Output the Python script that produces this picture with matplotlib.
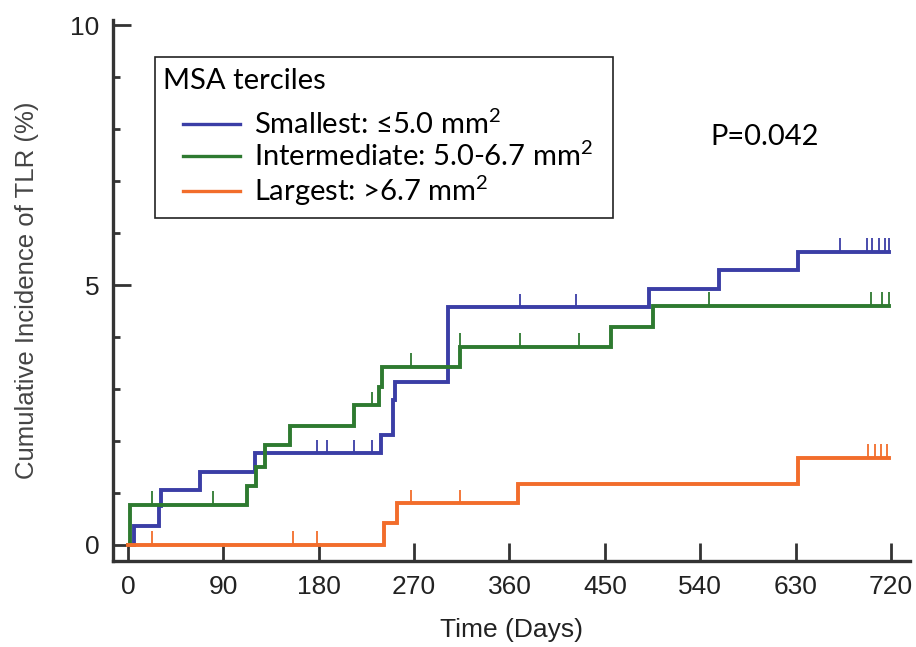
import numpy as np
import matplotlib
matplotlib.use("Agg")
import matplotlib.pyplot as plt
from matplotlib.patches import Rectangle

# step curves: time of each jump (days) and cumulative incidence (%) after it
blue_t = [0, 6, 29, 31, 68, 120, 239, 250, 252, 302, 492, 558, 632, 718]
blue_y = [0, 0.37, 0.74, 1.06, 1.41, 1.76, 2.11, 2.79, 3.14, 4.57, 4.92, 5.29, 5.64, 5.64]
green_t = [0, 2, 112, 121, 129, 153, 213, 237, 240, 313, 456, 495, 718]
green_y = [0, 0.77, 1.13, 1.50, 1.92, 2.29, 2.69, 3.04, 3.43, 3.81, 4.20, 4.60, 4.60]
orange_t = [0, 242, 254, 368, 632, 718]
orange_y = [0, 0.42, 0.80, 1.17, 1.68, 1.68]

# censoring marks
blue_c = [178, 188, 213, 230, 370, 423, 672, 697, 702, 709, 714, 718]
green_c = [23, 80, 230, 267, 313, 370, 426, 548, 701, 712, 718]
orange_c = [23, 156, 178, 267, 313, 698, 705, 711, 716]

labels = ["Smallest: ≤5.0 mm$^2$", "Intermediate: 5.0-6.7 mm$^2$", "Largest: >6.7 mm$^2$"]
colors = ["#3b3ea6", "#2e7a30", "#f26d2b"]
xticks = [0, 90, 180, 270, 360, 450, 540, 630, 720]

plt.rcParams["mathtext.default"] = "regular"
tick_font = ["Liberation Sans Narrow", "Liberation Sans"]
leg_font = ["Lato", "DejaVu Sans"]

fig = plt.figure(figsize=(9.16, 6.47), dpi=100)
ax = fig.add_axes([0.1234, 0.133, 0.87, 0.836])

series = [(blue_t, blue_y, blue_c), (green_t, green_y, green_c), (orange_t, orange_y, orange_c)]
handles = []
for (t, y, c), col, lab in zip(series, colors, labels):
    ax.step(t, y, where="post", color=col, lw=2.8, solid_joinstyle="miter")
    t = np.array(t)
    y = np.array(y)
    cy = y[np.searchsorted(t, c, side="right") - 1]
    ax.vlines(c, cy, cy + 0.26, color=col, lw=1.3)
    h, = ax.plot([], [], color=col, lw=2.4, label=lab)
    handles.append(h)

ax.set_xlim(-14.2, 738)
ax.set_ylim(-0.31, 10.1)
ax.set_xticks(xticks)
ax.set_yticks([0, 5, 10])
ax.set_yticks(range(0, 11), minor=True)
ax.tick_params(axis="both", direction="in", length=13, width=2, color="#333333",
               labelsize=19, pad=10)
ax.tick_params(axis="y", which="minor", direction="in", length=5, width=2, color="#333333")
for lab in ax.get_xticklabels() + ax.get_yticklabels():
    lab.set_family(tick_font)
    lab.set_color("#222222")

for s in ["top", "right"]:
    ax.spines[s].set_visible(False)
for s in ["left", "bottom"]:
    ax.spines[s].set_linewidth(2.4)
    ax.spines[s].set_color("#333333")

ax.set_xlabel("Time (Days)", fontsize=19, family=tick_font, color="#222222", labelpad=14)
ax.set_ylabel("Cumulative Incidence of TLR (%)", fontsize=18.5, family="Liberation Sans",
              color="#444444", labelpad=22)

# legend box, title and entries
ax.add_patch(Rectangle((0.0527, 0.634), 0.5747, 0.2976, transform=ax.transAxes,
                       facecolor="white", edgecolor="#222222", lw=1.2, zorder=4))
ax.text(0.0627, 0.888, "MSA terciles", transform=ax.transAxes, fontsize=21,
        family=leg_font, va="center", ha="left", zorder=5)
leg = ax.legend(handles=handles, loc="center left", bbox_to_anchor=(0.0878, 0.743),
                frameon=False, prop={"family": leg_font, "size": 21},
                handlelength=1.95, handletextpad=0.5, labelspacing=0.1,
                borderpad=0, borderaxespad=0)
leg.set_zorder(6)

ax.text(601, 7.85, "P=0.042", fontsize=21, family=leg_font, ha="center", va="center")

fig.savefig("out.png", dpi=100)
